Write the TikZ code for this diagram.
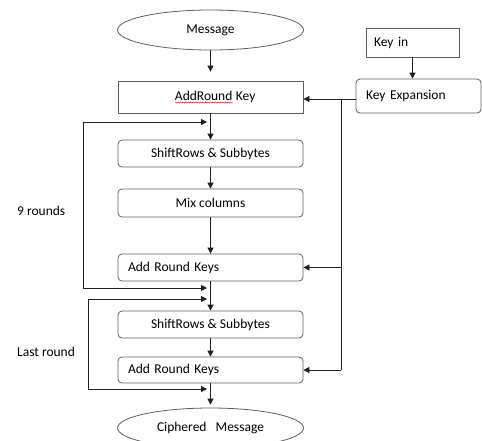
\documentclass[tikz,border=0pt]{standalone}
\usepackage{fontspec}
\setmainfont{Carlito}
\usepackage{tikz}
\usetikzlibrary{shapes.geometric, arrows.meta, decorations.pathmorphing}
\definecolor{boxcolor}{RGB}{95,95,95}
\definecolor{flowcolor}{RGB}{30,30,30}

\begin{document}
\begin{tikzpicture}[
    x=1pt, y=-1pt,
    font=\fontsize{13.5}{16}\selectfont,
    io/.style={draw=boxcolor, ellipse, line width=0.8pt, minimum width=186pt, minimum height=40pt, inner sep=0pt},
    sqbox/.style={draw=boxcolor, line width=0.8pt, minimum width=185pt, minimum height=32pt, inner sep=0pt},
    stepbox/.style={draw=boxcolor, line width=0.8pt, rounded corners=4pt, minimum width=185pt, minimum height=27pt, inner sep=0pt},
    leftbox/.style={stepbox, text width=165pt, align=left},
    flow/.style={-{Triangle[length=6pt, width=6pt]}, line width=0.8pt, flowcolor},
    line/.style={line width=0.8pt, flowcolor},
    label/.style={anchor=west, inner sep=0pt}
]
    \useasboundingbox (0,0) rectangle (482,440);

    % Input and key
    \node[io] (msg) at (210.5,30) {Message};
    \node[sqbox] (ark0) at (210.5,97) {%
        \hspace*{9pt}\tikz[baseline=(w.base)]{\node[draw=none, inner sep=0pt, minimum width=0pt, minimum height=0pt] (w) {AddRound};
        \draw[red, line width=0.4pt, decorate, decoration={snake, amplitude=0.6pt, segment length=2.5pt}]
            ([yshift=-2.5pt]w.base west) -- ([yshift=-2.5pt]w.base east);}\ Key};
    \node[sqbox, minimum width=93pt, minimum height=29pt, text width=77pt, align=left] (keyin) at (412.5,42.5) {Key in};
    \node[stepbox, minimum width=125pt, minimum height=34pt, text width=105pt, align=left] (keyexp) at (418.5,96) {Key Expansion};

    % Rounds
    \node[stepbox] (sr1) at (210.5,153.5) {ShiftRows \& Subbytes};
    \node[stepbox, minimum height=28pt] (mix) at (210.5,203) {Mix columns};
    \node[leftbox] (ark1) at (210.5,267.5) {Add Round Keys};
    \node[stepbox] (sr2) at (210.5,324.5) {ShiftRows \& Subbytes};
    \node[leftbox, minimum height=26pt] (ark2) at (210.5,370) {Add Round Keys};
    \node[io] (ciph) at (210.5,428) {Ciphered\ \ \ Message};

    % Labels
    \node[label] (nine) at (17,211) {9 rounds};
    \node[label] (last) at (17,352) {Last round};

    % Main flow
    \draw[flow, shorten >=9pt] (msg) -- (ark0);
    \draw[flow] (ark0) -- (sr1);
    \draw[flow] (sr1) -- (mix);
    \draw[flow] (mix) -- (ark1);
    \draw[flow] (ark1) -- (sr2);
    \draw[flow] (sr2) -- (ark2);
    \draw[flow, shorten >=3pt] (ark2) -- (ciph);

    % Key schedule
    \coordinate (tap) at (341,99);
    \draw[flow] (keyin) -- (keyin |- keyexp.north);
    \draw[flow] (keyexp.west |- tap) -- (ark0.east |- tap);
    \draw[line] (tap) -- (tap |- ark2.east);
    \draw[flow] (tap |- ark1.east) -- (ark1.east);
    \draw[flow] (tap |- ark2.east) -- (ark2.east);

    % Loops
    \coordinate (lp1) at (83,288);
    \coordinate (in1a) at (207,122);
    \coordinate (in1b) at (207,288);
    \draw[flow] (lp1) |- (in1a);
    \draw[flow] (lp1) -- (in1b);
    \coordinate (lp2) at (88,389);
    \coordinate (in2a) at (207,299);
    \coordinate (in2b) at (207,389);
    \draw[flow] (lp2) |- (in2a);
    \draw[flow] (lp2) -- (in2b);
\end{tikzpicture}
\end{document}
